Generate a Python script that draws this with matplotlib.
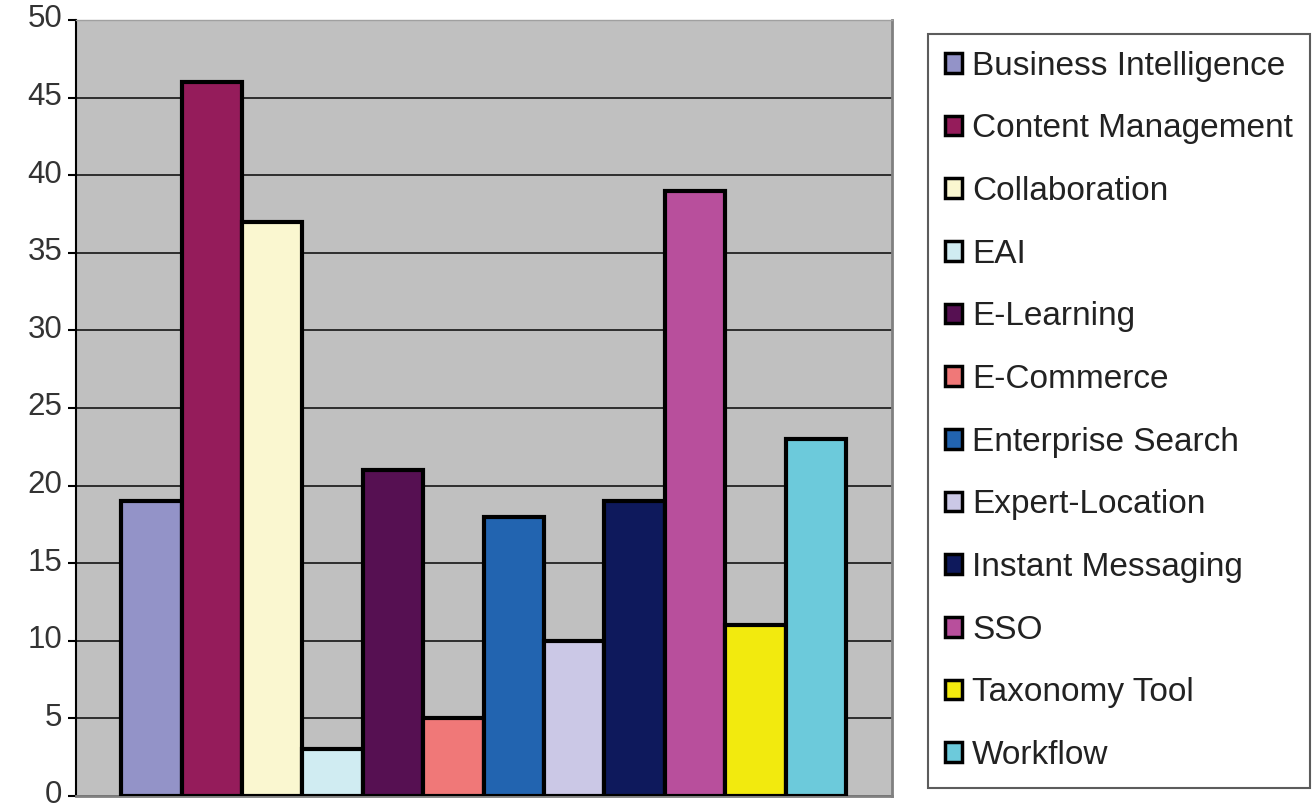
import numpy as np
import matplotlib
matplotlib.use("Agg")
import matplotlib.pyplot as plt
import matplotlib.transforms as mtransforms

categories = ["Business Intelligence", "Content Management", "Collaboration", "EAI",
              "E-Learning", "E-Commerce", "Enterprise Search", "Expert-Location",
              "Instant Messaging", "SSO", "Taxonomy Tool", "Workflow"]
values = [19, 46, 37, 3, 21, 5, 18, 10, 19, 39, 11, 23]
colors = ["#9393C8", "#951C5B", "#FAF7D0", "#D0ECF2", "#561052", "#F07878",
          "#2264B0", "#CBC8E6", "#0E195C", "#B84F9C", "#F2EA0E", "#6CCADB"]
yticks = [0, 5, 10, 15, 20, 25, 30, 35, 40, 45, 50]

plt.rcParams['font.family'] = ['Liberation Sans', 'DejaVu Sans']

fig = plt.figure(figsize=(13.16, 8.08), dpi=100)
ax = fig.add_axes([76/1316, 12/808, (892-76)/1316, (796-20)/808])
ax.set_facecolor("#C0C0C0")

for i, (cat, val, col) in enumerate(zip(categories, values, colors)):
    ax.bar(i, val, width=1.0, color=col, edgecolor="black", linewidth=3, label=cat, zorder=3)

ax.set_ylim(0, 50)
ax.set_xlim(-1.25, 12.26)
ax.set_yticks(yticks)
ax.set_xticks([])
ax.yaxis.grid(True, color="#222222", linewidth=1.3, zorder=1)
ax.set_axisbelow(True)
ax.tick_params(axis="y", labelsize=22.5, length=6, width=1.5, pad=4, labelcolor="#333333")

# nudge tick labels up a little so the "0" stays inside the figure
shift = mtransforms.ScaledTranslation(0, 3/72, fig.dpi_scale_trans)
for lbl in ax.get_yticklabels():
    lbl.set_transform(lbl.get_transform() + shift)

ax.spines["left"].set_color("black")
ax.spines["left"].set_linewidth(1.5)
ax.spines["right"].set_color("#808080")
ax.spines["right"].set_linewidth(2)
ax.spines["bottom"].set_color("#808080")
ax.spines["bottom"].set_linewidth(2)
ax.spines["top"].set_color("#A0A0A0")
ax.spines["top"].set_linewidth(1)

leg = fig.legend(loc="upper left", bbox_to_anchor=(928/1316, (808-34)/808),
                 fontsize=24, frameon=True, fancybox=False, edgecolor="#333333",
                 handlelength=0.52, handleheight=0.52, handletextpad=0.3,
                 labelspacing=0.95, borderpad=0.5, borderaxespad=0)
leg.get_frame().set_linewidth(1.5)
for h in leg.legend_handles:
    h.set_linewidth(2.5)
for t in leg.get_texts():
    t.set_color("#222222")

fig.savefig("out.png", dpi=100)
